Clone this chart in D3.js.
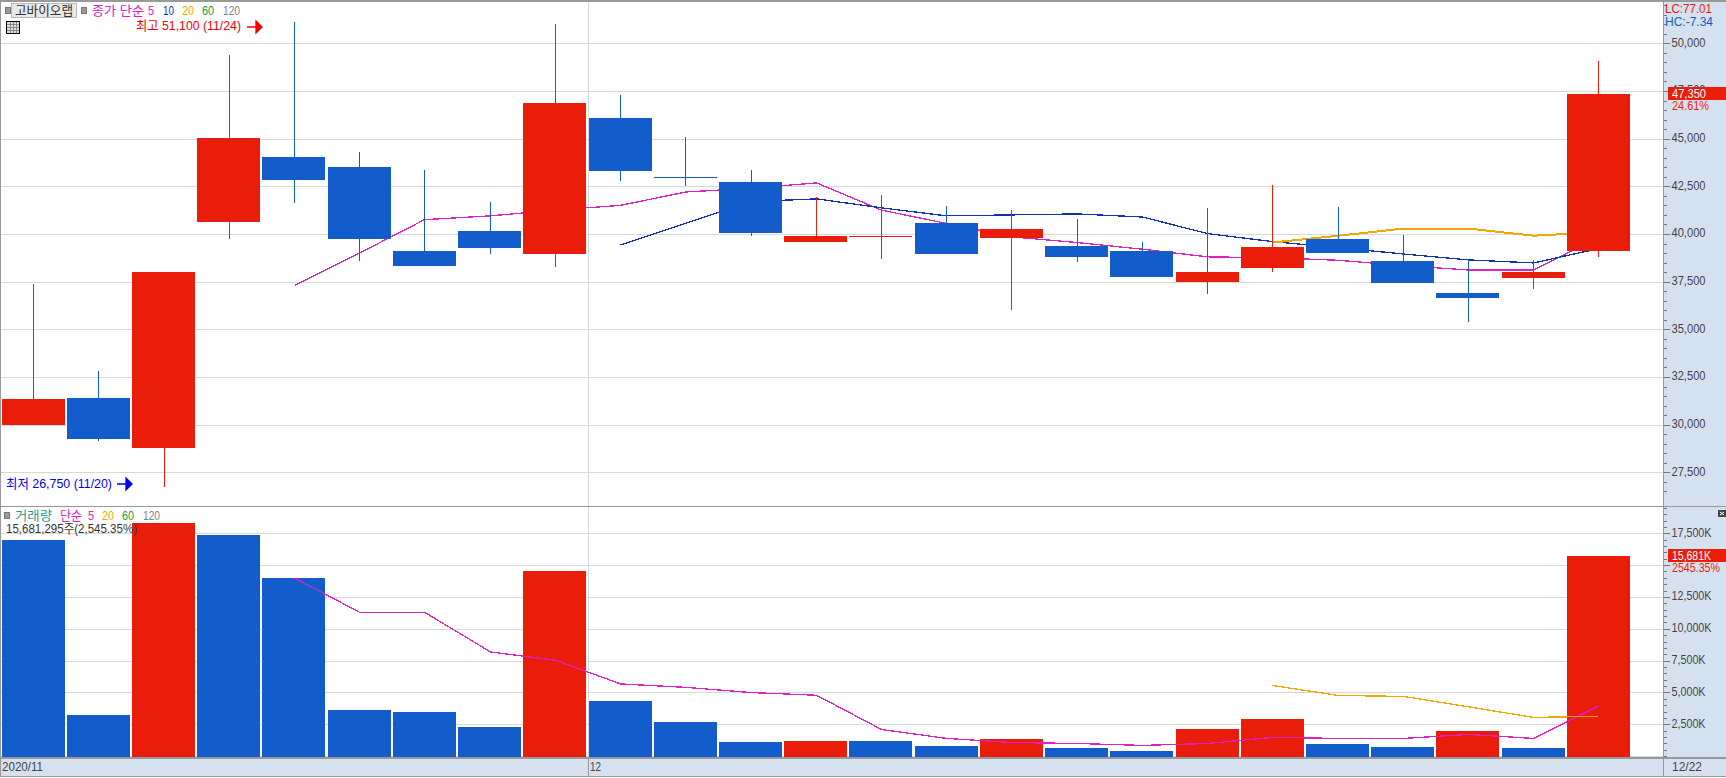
<!DOCTYPE html>
<html><head><meta charset="utf-8">
<style>
html,body{margin:0;padding:0;background:#fff;overflow:hidden}
svg{display:block}
text{font-family:"Liberation Sans","Noto Sans CJK KR",sans-serif;font-size:13px}
.axis text{fill:#444;font-size:13px}
.axis path{display:none}
.axis line{stroke:#777}
</style>
<script src="https://cdn.jsdelivr.net/npm/d3@7/dist/d3.min.js"></script>
</head><body><svg id="c" width="1726" height="778"></svg>
<script>
const dates=["11/18","11/19","11/20","11/23","11/24","11/25","11/26","11/27","11/30","12/01","12/02","12/03","12/04","12/07","12/08","12/09","12/10","12/11","12/14","12/15","12/16","12/17","12/18","12/21","12/22"];
const candleUp=[1,0,1,1,0,0,0,0,1,0,0,0,1,1,0,1,0,0,1,1,0,0,0,1,1];
const high=[37400,32800,38000,49400,51100,44300,43350,41700,51000,47300,45100,43350,41950,42050,41450,41250,40800,39600,41350,42550,41400,39950,38700,38650,49050];
const bodyTop=[31350,31400,38000,45050,44050,43500,39100,40150,46850,46100,43000,42750,39900,39900,40550,40250,39350,39100,38000,39300,39750,38600,36900,38000,47350];
const bodyBottom=[30000,29250,28800,40650,42850,39750,38300,39250,38950,43300,42950,40050,39600,39850,38950,39800,38800,37750,37500,38200,39000,37450,36650,37700,39100];
const low=[30000,29150,26750,39750,41600,38600,38300,38950,38250,42800,42500,39900,39600,38700,38950,36000,38550,37750,36850,38000,39000,37450,35400,37100,38800];
const ma5=[null,null,null,null,37300,39000,40750,40950,41250,41500,42200,42400,42680,41250,40550,39850,39550,39200,38800,38750,38620,38340,38110,38110,39800];
const ma10=[null,null,null,null,null,null,null,null,null,39420,40560,41700,41840,41370,40950,41000,41050,40890,40020,39600,39280,38950,38640,38480,39230];
const ma20=[null,null,null,null,null,null,null,null,null,null,null,null,null,null,null,null,null,null,null,39550,39910,40280,40280,39910,40090];
const volume=[16980,3230,18310,17370,13990,3630,3470,2290,14540,4330,2680,1110,1180,1180,790,1340,630,390,2120,2910,940,710,1960,630,15681];
const volumeUp=[0,0,1,0,0,0,0,0,1,0,0,0,1,0,0,1,0,0,1,1,0,0,1,0,1];
const volMa5=[null,null,null,null,13990,11300,11300,8180,7530,5670,5400,4990,4780,2090,1390,1070,990,840,990,1470,1390,1390,1700,1390,3930];
const volMa20=[null,null,null,null,null,null,null,null,null,null,null,null,null,null,null,null,null,null,null,5550,4760,4690,3870,3040,3120];
const priceTicks=[27500,30000,32500,35000,37500,40000,42500,45000,47500,50000];
const volTicks=[2500,5000,7500,10000,12500,15000,17500];

const RED="#ea1d0a",BLUE="#125dcb",PINK="#e020c0",NAVY="#1030b0",ORANGE="#f0a800",GREEN="#10a040",GRAY="#808080",PANEL="#d6e1ef",GRID="#d8d8d8",EDGE="#999";
const svg=d3.select("#c");
const x=d3.scaleBand().domain(dates).range([0.5,1631]).paddingInner(0.034).paddingOuter(0.017);
const cx=d=>Math.round(x(d)+x.bandwidth()/2)+0.5;
const y=d3.scaleLinear().domain([27500,50000]).range([472.3,43.3]);
const yv=d3.scaleLinear().domain([0,17500]).range([756.1,533.3]);
const minor=(a,b,s)=>d3.range(a,b+1,s);
const txt=(t,px,py,fill,w,g=svg)=>{const e=g.append("text").attr("x",px).attr("y",py).attr("fill",fill).text(t);
 if(w)e.attr("textLength",w).attr("lengthAdjust","spacingAndGlyphs");return e;};
const rect=(px,py,w,h,fill,stroke)=>svg.append("rect").attr("x",px).attr("y",py).attr("width",w).attr("height",h).attr("fill",fill).attr("stroke",stroke||"none").attr("shape-rendering","crispEdges");

// right axis panel and time strip
rect(1664,2,62,774,PANEL);
rect(1,758,1663,18,PANEL);

// gridlines
const grid=svg.append("g").attr("stroke",GRID).attr("shape-rendering","crispEdges");
priceTicks.forEach(v=>grid.append("line").attr("x1",1).attr("x2",1663).attr("y1",Math.round(y(v))+0.5).attr("y2",Math.round(y(v))+0.5));
[0,...volTicks].forEach(v=>grid.append("line").attr("x1",1).attr("x2",1663).attr("y1",Math.round(yv(v))+0.5).attr("y2",Math.round(yv(v))+0.5));
grid.append("line").attr("x1",588.5).attr("x2",588.5).attr("y1",2).attr("y2",758);

const lineOf=(sc,arr)=>d3.line().defined(d=>arr[dates.indexOf(d)]!==null).x(cx).y(d=>sc(arr[dates.indexOf(d)]))(dates);
const drawLine=(sc,arr,col,w)=>svg.append("path").attr("d",lineOf(sc,arr)).attr("fill","none").attr("stroke",col).attr("stroke-width",w).attr("shape-rendering","crispEdges");

// price moving averages (behind candles)
drawLine(y,ma5,PINK,1.3);
drawLine(y,ma10,NAVY,1.3);
drawLine(y,ma20,ORANGE,2);

// candles
dates.forEach((d,i)=>{
  const col=candleUp[i]?RED:BLUE;
  svg.append("line").attr("x1",cx(d)).attr("x2",cx(d)).attr("y1",y(high[i])).attr("y2",y(low[i])).attr("stroke",col).attr("shape-rendering","crispEdges");
  const t=Math.round(y(bodyTop[i])),b=Math.round(y(bodyBottom[i]));
  rect(Math.round(x(d)),t,Math.round(x.bandwidth()),Math.max(1,b-t),col);
});

// volume bars
dates.forEach((d,i)=>{
  const t=Math.round(yv(volume[i]));
  rect(Math.round(x(d)),t,Math.round(x.bandwidth()),757-t,volumeUp[i]?RED:BLUE);
});
drawLine(yv,volMa5,PINK,1.3);
drawLine(yv,volMa20,ORANGE,1.3);

// axes
const fmt=d3.format(",");
svg.append("g").attr("transform","translate(1663.5,0)").attr("class","axis").attr("shape-rendering","crispEdges")
  .call(d3.axisRight(y).tickValues(minor(26500,52000,500)).tickSize(3).tickFormat(""));
svg.append("g").attr("transform","translate(1663.5,0)").attr("class","axis").attr("shape-rendering","crispEdges")
  .call(d3.axisRight(y).tickValues(priceTicks).tickSize(6).tickPadding(2).tickFormat(fmt));
svg.append("g").attr("transform","translate(1663.5,0)").attr("class","axis").attr("shape-rendering","crispEdges")
  .call(d3.axisRight(yv).tickValues(minor(0,19500,500)).tickSize(3).tickFormat(""));
// the 15,000K label is not shown in the reference: the current-volume tag sits on it
svg.append("g").attr("transform","translate(1663.5,0)").attr("class","axis").attr("shape-rendering","crispEdges")
  .call(d3.axisRight(yv).tickValues(volTicks).tickSize(6).tickPadding(2).tickFormat(v=>v===15000?"":fmt(v)+"K"));
svg.selectAll(".axis text").filter(function(){return this.textContent!=="";})
  .attr("textLength",function(){return this.textContent.length>6?40:34;}).attr("lengthAdjust","spacingAndGlyphs").attr("dy","-0.7px").attr("y",0)
  .attr("dominant-baseline","middle");

// frame
const frame=svg.append("g").attr("stroke",EDGE).attr("shape-rendering","crispEdges");
[[0,1,1726,1],[0,506.5,1726,506.5],[0,758,1726,758],[0,776.5,1726,776.5],[0.5,1,0.5,776],[1663.5,1,1663.5,776]].forEach(l=>
  frame.append("line").attr("x1",l[0]).attr("y1",l[1]).attr("x2",l[2]).attr("y2",l[3]).attr("stroke-width",1.5));
frame.append("line").attr("x1",588.5).attr("x2",588.5).attr("y1",758).attr("y2",776);

// price header
rect(5,7,5,6,"#999","#777");
rect(11.5,3.5,65,14,"#e8e8e8","#b8b8b8");
txt("고바이오랩",15,15,"#333",58);
rect(81,7,5,6,"#999","#777");
txt("종가 단순",92,15,PINK,52);
txt("5",148,15,PINK,6);
txt("10",163,15,NAVY,11);
txt("20",182,15,ORANGE,12);
txt("60",202,15,GREEN,12);
txt("120",223,15,GRAY,17);
// table icon
rect(6.5,21.5,13,12,"#ddd","#000");
const ic=svg.append("g").attr("stroke","#888").attr("shape-rendering","crispEdges");
[10.5,13.5,16.5].forEach(v=>ic.append("line").attr("x1",v).attr("x2",v).attr("y1",22).attr("y2",33));
[24.5,27.5,30.5].forEach(v=>ic.append("line").attr("x1",7).attr("x2",19).attr("y1",v).attr("y2",v));

const arrow=(x0,yy,col)=>svg.append("path").attr("d",`M${x0},${yy}h11 M${x0+9},${yy-6}l6,6l-6,6z`).attr("stroke",col).attr("stroke-width",1.3).attr("fill",col);
txt("최고 51,100 (11/24)",136,30,"#f00000",105);
arrow(247,27,"#f00000");
txt("최저 26,750 (11/20)",6,488,"#0000f0",106);
arrow(117,484,"#0000f0");

// volume header
rect(4,512,5,6,"#999","#777");
txt("거래량",15,520,"#2a9d8f",37);
txt("단순",60,520,PINK,22);
txt("5",88,520,PINK,6);
txt("20",102,520,ORANGE,12);
txt("60",122,520,GREEN,12);
txt("120",143,520,GRAY,17);
txt("15,681,295주(2,545.35%)",6,533,"#333",131);

// right side labels
txt("LC:77.01",1665,13,RED,47);
txt("HC:-7.34",1665,26,BLUE,48);
rect(1668,87,58,13,RED);
txt("47,350",1672,98,"#fff",34);
txt("24.61%",1672,110,RED,37);
rect(1668,549,58,13,RED);
txt("15,681K",1672,560,"#fff",39);
txt("2545.35%",1672,572,RED,48);
rect(1718,510,8,7,"#444");
svg.append("path").attr("d","M1720,512l4,3 M1724,512l-4,3").attr("stroke","#fff").attr("fill","none");
txt("2020/11",2,771,"#444",41);
txt("12",590,771,"#444",11);
txt("12/22",1672,771,"#444",30);
</script></body></html>
